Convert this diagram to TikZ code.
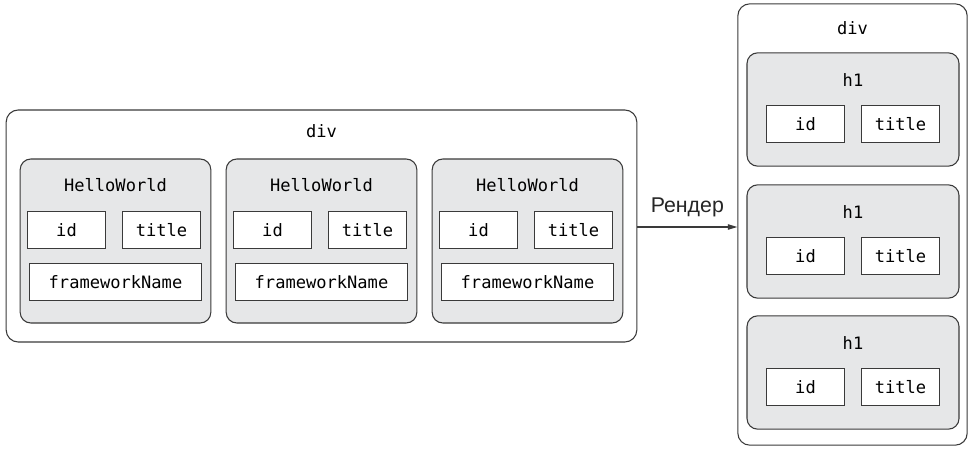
\documentclass[tikz,border=0pt]{standalone}
\usepackage{fontspec}
\setmainfont{Liberation Sans}
\setmonofont{DejaVu Sans Mono}
\usetikzlibrary{arrows.meta}
\definecolor{boxgray}{HTML}{E6E7E8}
\definecolor{linegray}{HTML}{3A3A3A}
\tikzset{
  outerbox/.style={draw=linegray,line width=0.8pt,rounded corners=9pt,inner sep=0pt},
  compbox/.style={draw=linegray,fill=boxgray,line width=0.8pt,rounded corners=8pt,inner sep=0pt},
  propbox/.style={draw=linegray,fill=white,line width=0.8pt,inner sep=0pt,
    minimum height=28pt,font=\ttfamily\fontsize{12.8}{15}\selectfont},
  tag/.style={inner sep=0pt,font=\ttfamily\fontsize{12.8}{15}\selectfont},
}
\begin{document}
\begin{tikzpicture}[x=0.75pt,y=-0.75pt]
      \useasboundingbox (0,0) rectangle (969,449);
      % left side: div with three HelloWorld components
      \node[outerbox,minimum width=473pt,minimum height=174pt] (ldiv) at (321.5,226) {};
      \node[tag] (ldivtag) at (321.5,131) {div};
      \draw
        (115.5,241) node[compbox,minimum width=143pt,minimum height=123pt] (hw1){}
        (321.5,241) node[compbox,minimum width=143pt,minimum height=123pt] (hw2){}
        (527.5,241) node[compbox,minimum width=143pt,minimum height=123pt] (hw3){};
      \draw
        (115.5,185) node[tag] (hwtag1){HelloWorld}
        (321.5,185) node[tag] (hwtag2){HelloWorld}
        (527.5,185) node[tag] (hwtag3){HelloWorld};
      \draw
        (66.5,230) node[propbox,minimum width=58pt] (hwid1){id}
        (161.5,230) node[propbox,minimum width=58pt] (hwtitle1){title}
        (115.5,282) node[propbox,minimum width=129pt] (hwname1){frameworkName}
        (272.5,230) node[propbox,minimum width=58pt] (hwid2){id}
        (367.5,230) node[propbox,minimum width=58pt] (hwtitle2){title}
        (321.5,282) node[propbox,minimum width=129pt] (hwname2){frameworkName}
        (478.5,230) node[propbox,minimum width=58pt] (hwid3){id}
        (573.5,230) node[propbox,minimum width=58pt] (hwtitle3){title}
        (527.5,282) node[propbox,minimum width=129pt] (hwname3){frameworkName};
      % right side: div with three h1 elements
      \node[outerbox,minimum width=172pt,minimum height=331pt] (rdiv) at (852.5,224.5) {};
      \node[tag] (rdivtag) at (852.5,28) {div};
      \draw
        (853,109.5) node[compbox,minimum width=159pt,minimum height=85pt] (h1){}
        (853,241.5) node[compbox,minimum width=159pt,minimum height=85pt] (h2){}
        (853,372.5) node[compbox,minimum width=159pt,minimum height=85pt] (h3){};
      \draw
        (853,80) node[tag] (htag1){h1}
        (853,212) node[tag] (htag2){h1}
        (853,343) node[tag] (htag3){h1};
      \draw
        (805.5,124) node[propbox,minimum width=58pt] (hid1){id}
        (900.5,124) node[propbox,minimum width=58pt] (htitle1){title}
        (805.5,256) node[propbox,minimum width=58pt] (hid2){id}
        (900.5,256) node[propbox,minimum width=58pt] (htitle2){title}
        (805.5,387) node[propbox,minimum width=58pt] (hid3){id}
        (900.5,387) node[propbox,minimum width=58pt] (htitle3){title};
      \begin{scope}[-{Triangle[length=7pt,width=4pt]},draw=linegray,line width=0.8pt]
        \draw (ldiv.east |- 0,227) coordinate (start) to
          node[above=4pt,font=\fontsize{16}{18}\selectfont,text=black!85] (render){Рендер}
          (start -| rdiv.west);
      \end{scope}
    \end{tikzpicture}
\end{document}
